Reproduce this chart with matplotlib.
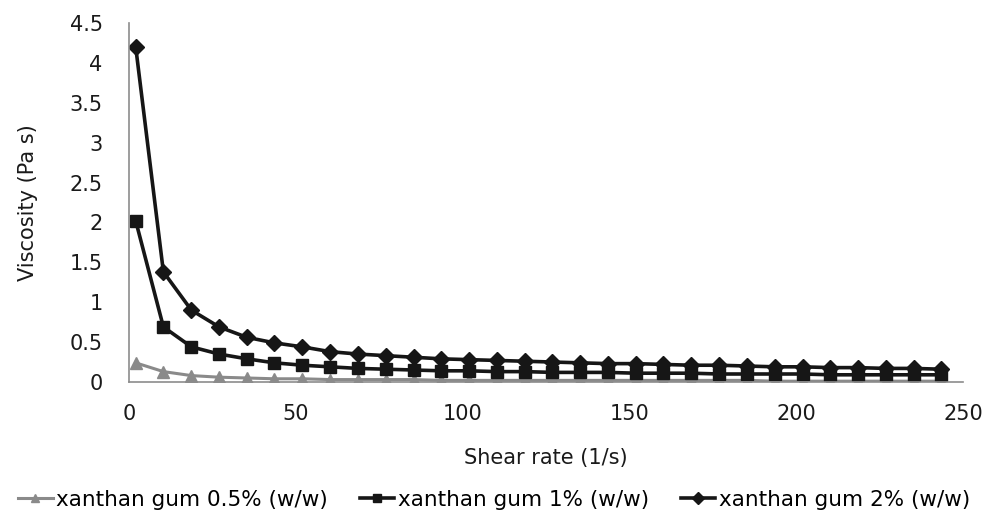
import matplotlib
matplotlib.use("Agg")
import matplotlib.pyplot as plt

# shear rate sweep (1/s) and apparent viscosity (Pa s) per xanthan concentration
shear_rate = [2.0, 10.3, 18.7, 27.0, 35.3, 43.6, 52.0, 60.3, 68.6, 77.0,
              85.3, 93.6, 101.9, 110.3, 118.6, 126.9, 135.3, 143.6, 151.9, 160.2,
              168.6, 176.9, 185.2, 193.6, 201.9, 210.2, 218.5, 226.9, 235.2, 243.5]
visc_05 = [0.24, 0.13, 0.08, 0.06, 0.05, 0.04, 0.04, 0.03, 0.03, 0.03,
           0.03, 0.02, 0.02, 0.02, 0.02, 0.02, 0.02, 0.02, 0.02, 0.02,
           0.02, 0.02, 0.02, 0.01, 0.01, 0.01, 0.01, 0.01, 0.01, 0.01]
visc_1 = [2.02, 0.69, 0.44, 0.35, 0.29, 0.24, 0.21, 0.19, 0.17, 0.16,
          0.15, 0.14, 0.14, 0.13, 0.13, 0.12, 0.12, 0.12, 0.11, 0.11,
          0.11, 0.10, 0.10, 0.10, 0.10, 0.09, 0.09, 0.09, 0.09, 0.09]
visc_2 = [4.20, 1.38, 0.90, 0.69, 0.56, 0.49, 0.44, 0.38, 0.35, 0.33,
          0.31, 0.29, 0.28, 0.27, 0.26, 0.25, 0.24, 0.23, 0.23, 0.22,
          0.21, 0.21, 0.20, 0.19, 0.19, 0.18, 0.18, 0.17, 0.17, 0.16]
labels = ["xanthan gum 0.5% (w/w)", "xanthan gum 1% (w/w)", "xanthan gum 2% (w/w)"]
xticks = [0, 50, 100, 150, 200, 250]
yticks = [0, 0.5, 1, 1.5, 2, 2.5, 3, 3.5, 4, 4.5]

fig = plt.figure(figsize=(9.88, 5.15), dpi=100)
ax = fig.add_axes([0.1306, 0.2583, 0.8441, 0.6970])

ax.plot(shear_rate, visc_05, color="#8a8a8a", lw=2.2, marker="^", ms=9,
        mfc="#8a8a8a", mec="#8a8a8a", label=labels[0])
ax.plot(shear_rate, visc_1, color="#161616", lw=2.6, marker="s", ms=9,
        mfc="#161616", mec="#161616", label=labels[1])
ax.plot(shear_rate, visc_2, color="#161616", lw=2.6, marker="D", ms=8.5,
        mfc="#161616", mec="#161616", label=labels[2])

ax.set_xlim(0, 250)
ax.set_ylim(0, 4.5)
ax.set_xticks(xticks)
ax.set_yticks(yticks)
ax.set_yticklabels([f"{v:g}" for v in yticks])
ax.tick_params(length=0, labelsize=15, colors="#1a1a1a")
ax.tick_params(axis="y", pad=19)
ax.tick_params(axis="x", pad=16)
for side in ("top", "right"):
    ax.spines[side].set_visible(False)
for side in ("left", "bottom"):
    ax.spines[side].set_color("#8c8c8c")
    ax.spines[side].set_linewidth(1.2)

ax.set_xlabel("Shear rate (1/s)", fontsize=15, color="#1a1a1a", labelpad=17)
ax.set_ylabel("Viscosity (Pa s)", fontsize=15, color="#1a1a1a", labelpad=23)

fig.legend(loc="lower center", bbox_to_anchor=(0.5, -0.027), ncol=3, frameon=False,
           fontsize=15.5, handlelength=1.6, handletextpad=0.15, columnspacing=1.5,
           markerscale=0.7)

fig.savefig("out.png", dpi=100, facecolor="white")
